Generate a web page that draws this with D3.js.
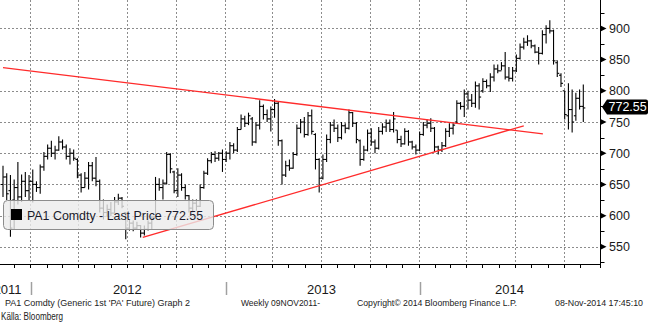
<!DOCTYPE html>
<html><head><meta charset="utf-8">
<script src="https://cdn.jsdelivr.net/npm/d3@7"></script>
<style>body{margin:0;background:#fff}svg{display:block}text{font-family:"Liberation Sans",Arial,sans-serif}</style>
</head><body>
<svg id="c" width="650" height="327"></svg>
<script>
// ---- data (weekly bars, PA1 Comdty) ----
const startDate = "2011-11-11";
const opens = [650,662,640,625,645,630,655,640,655,650,
645,678,695,708,700,705,718,710,695,700,
690,665,645,660,680,660,655,612,605,610,
604,622,628,605,580,588,580,584,572,578,
588,598,650,645,652,698,670,640,665,645,
632,612,620,615,645,668,688,698,692,700,
690,700,712,705,738,755,748,755,718,745,
775,762,755,770,780,720,665,680,676,698,
740,750,730,760,730,690,660,690,722,745,
740,725,744,740,765,748,720,690,705,732,
718,708,735,742,748,738,737,722,715,735,
718,710,705,730,745,748,740,710,705,712,
735,740,750,780,775,795,785,780,808,800,
815,808,822,835,832,840,822,820,832,852,
870,878,880,872,862,860,890,900,896,845,
825,800,760,770,760,788,775];
const highs = [680,668,665,658,686,666,670,665,674,655,
682,702,714,720,712,727,722,714,708,706,
692,668,670,686,686,694,658,626,618,622,
630,635,630,606,594,592,590,585,584,592,
600,662,660,658,702,700,672,676,668,650,
633,626,626,650,672,692,702,703,702,706,
703,718,716,742,762,760,765,758,750,785,
778,770,775,787,782,722,688,690,702,746,
755,758,766,770,732,692,698,730,750,754,
746,750,748,770,766,750,722,712,738,740,
722,742,748,754,754,766,737,728,740,737,
720,714,735,750,754,756,742,712,718,740,
748,748,785,782,802,800,795,815,812,820,
818,828,842,842,846,862,838,838,858,876,
885,889,882,874,870,897,905,913,898,848,
828,800,812,802,797,802,810];
const lows = [630,625,566,578,618,622,630,625,621,638,
635,672,690,694,690,704,706,690,682,688,
660,637,645,642,655,647,605,594,598,599,
604,617,612,562,576,575,577,565,568,576,
578,598,640,626,650,668,636,630,640,626,
605,605,608,614,643,665,684,686,688,670,
686,690,700,702,738,742,745,712,716,738,
754,750,735,757,712,650,662,672,675,696,
732,725,728,730,674,637,658,686,716,734,
718,722,732,738,742,716,680,688,703,712,
700,706,730,734,734,733,716,710,714,712,
706,698,703,728,740,734,702,698,702,710,
726,730,748,770,758,770,774,773,770,797,
804,798,815,828,833,818,815,815,830,850,
866,872,868,860,842,858,876,892,842,822,
806,754,738,733,752,770,750];
const closes = [662,635,580,645,630,655,640,655,650,645,
678,695,708,700,705,718,710,695,700,692,
665,645,660,680,660,655,612,605,610,604,
622,628,615,580,588,580,584,572,578,588,
596,650,645,652,698,675,640,665,645,632,
612,620,615,645,668,688,698,692,700,690,
700,712,705,738,755,748,760,718,745,775,
762,755,770,780,720,665,680,676,698,740,
750,730,760,735,690,660,690,722,745,740,
725,744,740,765,748,722,690,705,732,718,
708,735,742,748,738,755,722,715,735,718,
710,705,730,745,748,740,710,705,712,735,
740,745,780,775,795,785,780,808,790,815,
808,822,835,832,840,822,820,832,852,870,
878,880,872,862,860,890,900,896,848,828,
812,762,770,750,788,775,772.55];
const lastPrice = 772.55;
const yTicks = [550,600,650,700,750,800,850,900];
const yMinorTicks = [525,575,625,675,725,775,825,875,925];
const yearLabels = ["2011","2012","2013","2014"];
const trendDates = [["2011-11-11","2014-08-23"],["2012-07-31","2014-07-18"]];
const trendPrices = [[837,731],[565,744]];
const legendText = "PA1 Comdty - Last Price 772.55";
const footerTexts = ["PA1 Comdty (Generic 1st 'PA' Future) Graph 2","Weekly 09NOV2011-","Copyright\u00A9 2014 Bloomberg Finance L.P.","08-Nov-2014 17:45:10"];
const sourceText = "K\u00E4lla: Bloomberg";

// ---- scales ----
const parse = d3.utcParse("%Y-%m-%d");
const t0 = parse(startDate);
const dates = opens.map((_, i) => d3.utcDay.offset(t0, 7 * i));
const plotRight = 600.5, plotBottom = 264;
const x = d3.scaleUtc().domain([dates[0], dates[dates.length - 1]]).range([3, 583.3]);
const y = d3.scaleLinear().domain([522.5, 945.5]).range([plotBottom, 0]);
const px = v => Math.round(v) + 0.5;

const svg = d3.select("#c");

// grid
const g = svg.append("g");
const quarters = d3.utcMonth.every(3).range(parse("2012-01-01"), parse("2014-11-08"));
g.selectAll("line.vg").data(quarters).join("line")
  .attr("x1", d => px(x(d))).attr("x2", d => px(x(d)))
  .attr("y1", 0).attr("y2", plotBottom)
  .attr("stroke", "#8c8c8c").attr("stroke-dasharray", "2,2");
g.selectAll("line.hg").data(yTicks).join("line")
  .attr("x1", 0).attr("x2", plotRight)
  .attr("y1", d => px(y(d))).attr("y2", d => px(y(d)))
  .attr("stroke", "#8c8c8c").attr("stroke-dasharray", "2,2");

// OHLC bars
const bars = svg.append("g").attr("stroke", "#000").attr("stroke-width", 1.1);
dates.forEach((d, i) => {
  const cx = x(d);
  bars.append("line").attr("x1", cx).attr("x2", cx).attr("y1", y(highs[i])).attr("y2", y(lows[i]));
  bars.append("line").attr("x1", cx - 2).attr("x2", cx).attr("y1", y(opens[i])).attr("y2", y(opens[i]));
  bars.append("line").attr("x1", cx).attr("x2", cx + 2).attr("y1", y(closes[i])).attr("y2", y(closes[i]));
});

// trend lines
trendDates.forEach((td, k) => {
  svg.append("line")
    .attr("x1", x(parse(td[0]))).attr("y1", y(trendPrices[k][0]))
    .attr("x2", x(parse(td[1]))).attr("y2", y(trendPrices[k][1]))
    .attr("stroke", "#ff2b2b").attr("stroke-width", 1.3);
});

// axes
svg.append("line").attr("x1", 0).attr("x2", plotRight + 0.5).attr("y1", plotBottom + 0.5).attr("y2", plotBottom + 0.5).attr("stroke", "#000");
svg.append("line").attr("x1", plotRight).attr("x2", plotRight).attr("y1", 0).attr("y2", plotBottom + 4).attr("stroke", "#000");

// month ticks
const months = d3.utcMonth.range(parse("2011-12-01"), parse("2014-11-08"));
svg.selectAll("line.mt").data(months).join("line")
  .attr("x1", d => px(x(d))).attr("x2", d => px(x(d)))
  .attr("y1", plotBottom + 1).attr("y2", plotBottom + 4).attr("stroke", "#000");

// year separators & labels
const yearStarts = ["2012-01-01","2013-01-01","2014-01-01"].map(parse);
svg.selectAll("line.ys").data(yearStarts).join("line")
  .attr("x1", d => px(x(d)) + 1).attr("x2", d => px(x(d)) + 1)
  .attr("y1", 282).attr("y2", 295).attr("stroke", "#a0a0a0").attr("stroke-width", 1.5);
const yb = [x(yearStarts[0]) - 45, x(yearStarts[0]), x(yearStarts[1]), x(yearStarts[2]), plotRight];
svg.selectAll("text.yl").data(yearLabels).join("text")
  .attr("x", (d, i) => (yb[i] + yb[i + 1]) / 2).attr("y", 294)
  .attr("text-anchor", "middle").attr("font-size", 13).attr("fill", "#1a1a1a").text(d => d);

// right axis ticks
svg.selectAll("path.mj").data(yTicks).join("path")
  .attr("d", d => { const yy = y(d); return `M${plotRight},${yy - 3}L${plotRight + 6},${yy}L${plotRight},${yy + 3}Z`; })
  .attr("fill", "#000");
svg.selectAll("line.mn").data(yMinorTicks).join("line")
  .attr("x1", plotRight).attr("x2", plotRight + 4)
  .attr("y1", d => px(y(d))).attr("y2", d => px(y(d))).attr("stroke", "#000");
svg.selectAll("text.yt").data(yTicks).join("text")
  .attr("x", 609).attr("y", d => y(d)).attr("dy", "0.36em")
  .attr("font-size", 12.5).attr("fill", "#1a1a1a").text(d => d);

// last price flag
const ly = y(lastPrice) - 1;
svg.append("path")
  .attr("d", `M602,${ly}L607,${ly - 7.5}H646q2,0 2,2V${ly + 5.5}q0,2 -2,2H607Z`)
  .attr("fill", "#000");
svg.append("text").attr("x", 608.5).attr("y", ly).attr("dy", "0.36em")
  .attr("font-size", 12.5).attr("fill", "#fff").text(d3.format(".2f")(lastPrice));

// legend
svg.append("rect").attr("x", 3.5).attr("y", 200.5).attr("width", 210).attr("height", 29).attr("rx", 4)
  .attr("fill", "#ebebeb").attr("fill-opacity", 0.8).attr("stroke", "#8c8c8c");
svg.append("rect").attr("x", 11).attr("y", 209).attr("width", 11).attr("height", 11).attr("fill", "#000");
svg.append("text").attr("x", 27).attr("y", 219.5).attr("font-size", 12.4).attr("fill", "#1a1a2a").text(legendText);

// footer
const fx = [5, 241, 357, 555], fw = [185, 79, 160, 88];
footerTexts.forEach((t, i) => {
  svg.append("text").attr("x", fx[i]).attr("y", 306).attr("font-size", 8.6).attr("fill", "#222")
    .attr("textLength", fw[i]).attr("lengthAdjust", "spacingAndGlyphs").text(t);
});
svg.append("text").attr("x", 1).attr("y", 320).attr("font-size", 11).attr("fill", "#222")
  .attr("textLength", 62).attr("lengthAdjust", "spacingAndGlyphs").text(sourceText);
</script>
</body></html>
